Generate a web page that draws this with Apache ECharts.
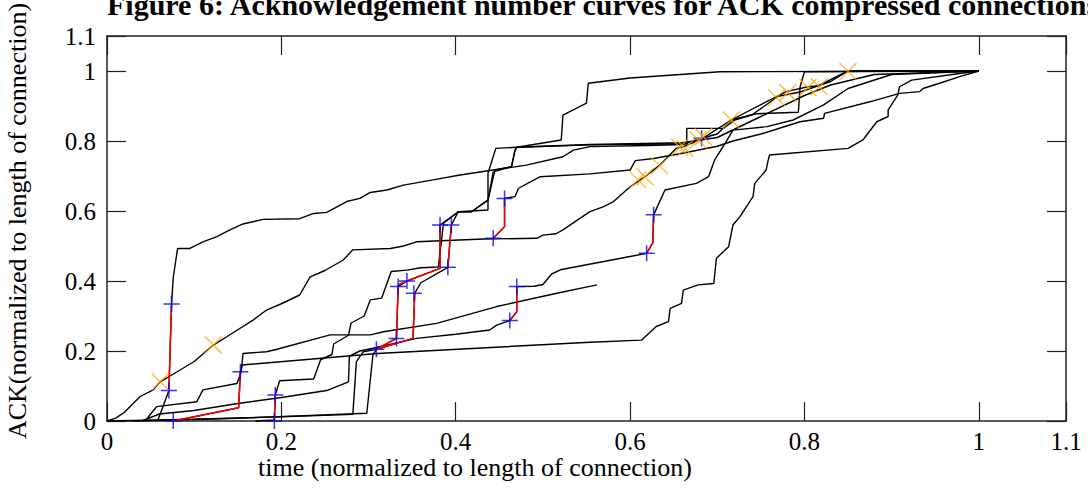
<!DOCTYPE html>
<html>
<head>
<meta charset="utf-8">
<script src="https://cdn.jsdelivr.net/npm/echarts@6/dist/echarts.min.js"></script>
<style>
html,body{margin:0;padding:0;background:#fff;}
#chart{width:1088px;height:489px;}
</style>
</head>
<body>
<div id="chart"></div>
<script>
// ---- tick labels ----
const xTickLabels = ['0', '0.2', '0.4', '0.6', '0.8', '1', '1.1'];
const yTickLabels = ['0', '0.2', '0.4', '0.6', '0.8', '1', '1.1'];

// ---- black ACK curves ([time, ack]) ----
const curveA = [[0.058,0],[0.064,0.04],[0.071,0.087],[0.074,0.334],[0.076,0.41],[0.079,0.46],[0.081,0.493],[0.095,0.493],[0.11,0.512],[0.126,0.527],[0.141,0.546],[0.156,0.563],[0.179,0.576],[0.221,0.578],[0.237,0.593],[0.252,0.596],[0.275,0.627],[0.29,0.636],[0.302,0.653],[0.321,0.66],[0.34,0.674],[0.374,0.689],[0.405,0.703],[0.443,0.717],[0.481,0.731],[0.523,0.755],[0.535,0.774],[0.554,0.784],[0.62,0.787],[0.66,0.79],[0.682,0.808],[0.7,0.82],[0.716,0.86],[0.74,0.875],[0.77,0.928],[0.795,0.94],[0.83,0.97],[0.85,1.0],[1,1]];
const curveB = [[0,0],[0.01,0.008],[0.02,0.025],[0.038,0.07],[0.053,0.089],[0.061,0.112],[0.08,0.14],[0.1,0.17],[0.122,0.217],[0.14,0.245],[0.168,0.289],[0.183,0.317],[0.2,0.335],[0.221,0.36],[0.233,0.412],[0.25,0.43],[0.271,0.46],[0.282,0.489],[0.325,0.493],[0.34,0.5],[0.355,0.512],[0.432,0.52],[0.493,0.522],[0.5,0.531],[0.515,0.535],[0.523,0.546],[0.542,0.578],[0.554,0.598],[0.569,0.612],[0.581,0.627],[0.6,0.669],[0.617,0.698],[0.634,0.731],[0.653,0.779],[0.661,0.784],[0.68,0.803],[0.686,0.812],[0.716,0.86],[0.768,0.927],[0.779,0.941],[0.804,0.955],[0.815,0.957],[0.85,1.0],[1,1]];
const curveC = [[0.076,0],[0.151,0.038],[0.153,0.141],[0.155,0.16],[0.31,0.193],[0.554,0.225],[0.613,0.231],[0.63,0.27],[0.644,0.284],[0.646,0.322],[0.659,0.336],[0.661,0.374],[0.678,0.389],[0.696,0.393],[0.699,0.465],[0.713,0.498],[0.718,0.56],[0.726,0.584],[0.741,0.641],[0.743,0.679],[0.756,0.717],[0.758,0.741],[0.76,0.76],[0.85,0.779],[0.867,0.803],[0.883,0.855],[0.896,0.87],[0.896,0.889],[0.907,0.931],[0.909,0.955],[0.923,0.974],[0.978,0.993],[1,1]];
const curveD = [[0.044,0],[0.05,0.02],[0.057,0.041],[0.103,0.055],[0.11,0.089],[0.149,0.107],[0.154,0.141],[0.156,0.193],[0.183,0.198],[0.195,0.205],[0.256,0.246],[0.302,0.246],[0.317,0.255],[0.378,0.279],[0.447,0.327],[0.516,0.365],[0.562,0.389]];
const curveE = [[0.443,0.522],[0.456,0.555],[0.456,0.636],[0.468,0.641],[0.472,0.665],[0.497,0.698],[0.554,0.706],[0.6,0.717],[0.606,0.744],[0.627,0.75],[0.66,0.765],[0.7,0.785],[0.718,0.8],[0.75,0.82],[0.795,0.855],[0.822,0.865],[0.823,0.879],[0.875,0.912],[0.909,0.936],[0.932,0.941],[0.936,0.95],[0.955,0.965],[0.978,0.984],[1,1]];
const curveG = [[0.04,0],[0.06,0.02],[0.1,0.03],[0.15,0.05],[0.2,0.067],[0.252,0.087],[0.277,0.112],[0.278,0.185],[0.29,0.2],[0.309,0.21],[0.355,0.236],[0.4,0.248],[0.439,0.26],[0.447,0.274],[0.462,0.287],[0.47,0.312],[0.47,0.384],[0.49,0.385],[0.5,0.39],[0.51,0.42],[0.52,0.432],[0.6,0.47],[0.619,0.479],[0.626,0.509],[0.627,0.589],[0.64,0.66],[0.676,0.679],[0.69,0.698],[0.697,0.746],[0.709,0.793],[0.718,0.831],[0.757,0.841],[0.787,0.86],[0.822,0.903],[0.85,0.95],[0.9,0.99],[1,1]];
const curveH = [[0.17,0],[0.192,0.003],[0.193,0.074],[0.198,0.115],[0.237,0.12],[0.24,0.14],[0.245,0.175],[0.258,0.19],[0.26,0.22],[0.277,0.245],[0.28,0.28],[0.295,0.3],[0.302,0.346],[0.315,0.351],[0.326,0.427],[0.344,0.431],[0.36,0.438],[0.38,0.44],[0.386,0.565],[0.403,0.598],[0.418,0.598],[0.437,0.631],[0.443,0.712],[0.464,0.727],[0.468,0.774],[0.47,0.782],[0.554,0.79],[0.66,0.795],[0.7,0.81],[0.75,0.87],[0.8,0.93],[0.83,0.96],[0.88,0.99],[1,1]];
const curveR1 = [[0,0],[0.1,0.005],[0.2,0.012],[0.282,0.019],[0.286,0.169],[0.294,0.198],[0.309,0.205],[0.332,0.236],[0.334,0.384],[0.344,0.4],[0.382,0.436],[0.382,0.56],[0.403,0.598],[0.437,0.603],[0.437,0.708],[0.446,0.779],[0.47,0.782],[0.554,0.789],[0.665,0.792],[0.665,0.836],[0.707,0.836],[0.72,0.86],[0.745,0.878],[0.793,0.882],[0.795,0.955],[0.8,0.998],[1,1]];
const curveR2 = [[0.03,0],[0.15,0.008],[0.298,0.022],[0.305,0.189],[0.309,0.205],[0.351,0.236],[0.353,0.365],[0.36,0.395],[0.391,0.439],[0.395,0.56],[0.403,0.598],[0.418,0.598],[0.437,0.631],[0.445,0.717],[0.464,0.727],[0.468,0.774],[0.47,0.782],[0.521,0.803],[0.523,0.874],[0.55,0.908],[0.552,0.965],[0.6,0.98],[0.703,0.998],[1,1]];
const blackCurves = [curveA, curveB, curveC, curveD, curveE, curveG, curveH, curveR1, curveR2];

// ---- red compressed-ACK segments ----
const red1 = [[0.071,0.087],[0.074,0.334]];
const red2 = [[0.076,0.0],[0.151,0.038],[0.153,0.141]];
const red3 = [[0.192,0.0],[0.193,0.074]];
const red4 = [[0.309,0.205],[0.332,0.236],[0.334,0.39],[0.382,0.436],[0.382,0.56]];
const red5 = [[0.309,0.205],[0.351,0.236],[0.353,0.365]];
const red6 = [[0.391,0.439],[0.395,0.56]];
const red7 = [[0.443,0.522],[0.456,0.555],[0.456,0.636]];
const red8 = [[0.462,0.287],[0.47,0.312],[0.47,0.384]];
const red9 = [[0.619,0.479],[0.626,0.509],[0.627,0.589]];
const redSegments = [red1, red2, red3, red4, red5, red6, red7, red8, red9];

// ---- blue + markers ----
const plusPoints = [[0.071,0.087],[0.074,0.334],[0.076,0.0],[0.153,0.141],[0.192,0.0],[0.193,0.074],[0.309,0.205],[0.332,0.236],[0.334,0.384],[0.344,0.40],[0.352,0.365],[0.382,0.56],[0.391,0.439],[0.395,0.56],[0.443,0.522],[0.456,0.636],[0.462,0.287],[0.47,0.384],[0.619,0.479],[0.627,0.589],[0.682,0.808]];

// ---- orange x markers ----
const crossPoints = [[0.061,0.112],[0.122,0.217],[0.609,0.689],[0.617,0.698],[0.634,0.729],[0.657,0.782],[0.663,0.779],[0.678,0.803],[0.684,0.812],[0.716,0.86],[0.768,0.924],[0.781,0.938],[0.804,0.953],[0.817,0.955],[0.85,0.999]];

const FONT = '"Liberation Serif", "Times New Roman", serif';
const fmt = (labels) => (v) => {
  const s = String(+v.toFixed(1));
  return labels.indexOf(s) >= 0 ? s : '';
};

const axisLine = { show: true, onZero: false, lineStyle: { color: '#222', width: 1.5 } };
const tickIn = { show: true, inside: true, length: 19, lineStyle: { color: '#222', width: 1.2 } };

const series = [];
blackCurves.forEach((c) => series.push({
  type: 'line', data: c, showSymbol: false, symbol: 'none', clip: false,
  lineStyle: { color: '#000', width: 1.4 }, z: 2, animation: false
}));
redSegments.forEach((c) => series.push({
  type: 'line', data: c, showSymbol: false, symbol: 'none', clip: false,
  lineStyle: { color: '#ff0000', width: 1.5 }, z: 3, animation: false
}));
series.push({
  type: 'scatter', data: plusPoints, clip: false, z: 4, animation: false,
  symbol: 'path://M10 0L10 20M0 10L20 10', symbolSize: 16,
  itemStyle: { color: 'none', borderColor: '#0000ff', borderWidth: 1.5 }
});
series.push({
  type: 'scatter', data: crossPoints, clip: false, z: 5, animation: false,
  symbol: 'path://M0 0L20 20M20 0L0 20', symbolSize: 17,
  itemStyle: { color: 'none', borderColor: '#ffa500', borderWidth: 1.3 }
});

const chart = echarts.init(document.getElementById('chart'), null, { renderer: 'svg' });
chart.setOption({
  backgroundColor: '#fff',
  animation: false,
  grid: { left: 107, right: 22, top: 36, bottom: 68, containLabel: false },
  xAxis: [
    { type: 'value', min: 0, max: 1.1, interval: 0.2, position: 'bottom',
      axisLine, axisTick: tickIn, splitLine: { show: false },
      axisLabel: { formatter: fmt(xTickLabels), fontFamily: FONT, fontSize: 25, lineHeight: 19, color: '#000', margin: 11 } },
    { type: 'value', min: 0, max: 1.1, interval: 0.2, position: 'top',
      axisLine, axisTick: tickIn, splitLine: { show: false }, axisLabel: { show: false } }
  ],
  yAxis: [
    { type: 'value', min: 0, max: 1.1, interval: 0.2, position: 'left',
      axisLine, axisTick: tickIn, splitLine: { show: false },
      axisLabel: { formatter: fmt(yTickLabels), fontFamily: FONT, fontSize: 25, lineHeight: 19, color: '#000', margin: 11 } },
    { type: 'value', min: 0, max: 1.1, interval: 0.2, position: 'right',
      axisLine, axisTick: tickIn, splitLine: { show: false }, axisLabel: { show: false } }
  ],
  graphic: [
    { type: 'text', x: 107, y: 4, silent: true,
      style: { text: 'Figure 6: Acknowledgement number curves for ACK compressed connections',
        font: 'bold 30px ' + FONT, fill: '#000', align: 'left', verticalAlign: 'middle' } },
    { type: 'text', x: 475, y: 467, silent: true,
      style: { text: 'time (normalized to length of connection)',
        font: '26px ' + FONT, lineHeight: 20, fill: '#000', align: 'center', verticalAlign: 'middle' } },
    { type: 'text', x: 17, y: 221, rotation: Math.PI / 2, silent: true,
      style: { text: 'ACK(normalized to length of connection)',
        font: '26px ' + FONT, fill: '#000', align: 'center', verticalAlign: 'middle' } }
  ],
  series
});
</script>
</body>
</html>
